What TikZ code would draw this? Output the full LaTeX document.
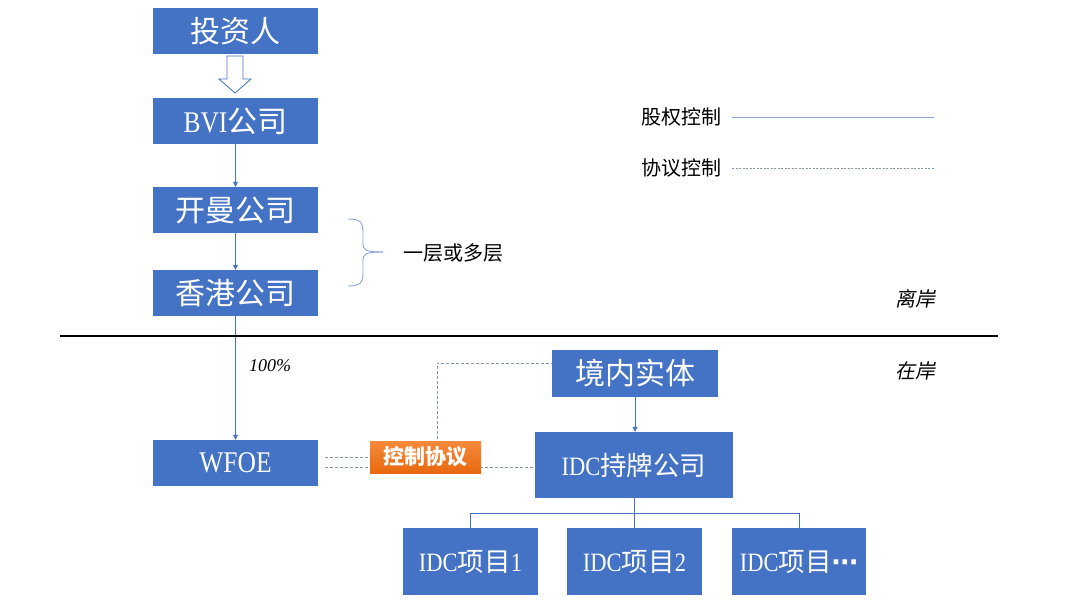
\documentclass[tikz,border=0pt]{standalone}
\usepackage{fontspec}
\setmainfont{Liberation Serif}
\newfontfamily\latn[FakeStretch=0.85]{Liberation Serif}
\newfontfamily\cjk{Noto Sans CJK SC}
\newfontfamily\cjkit[FakeSlant=0.2]{Noto Sans CJK SC}
\newfontfamily\dejavu{DejaVu Sans}
\usetikzlibrary{arrows.meta,calc}
\definecolor{boxblue}{HTML}{4472C4}
\definecolor{linkblue}{HTML}{4472C4}
\definecolor{dashgray}{HTML}{8497B0}
\definecolor{orangetop}{HTML}{F58A3C}
\definecolor{orangebot}{HTML}{E8690E}
\definecolor{legline}{HTML}{8FA2D4}
\begin{document}
\begin{tikzpicture}[x=1pt,y=-1pt,
  box/.style={fill=boxblue, draw=none, text=white, inner sep=0pt, font=\fontsize{30}{34}\selectfont\latn},
  sbox/.style={box, font=\fontsize{26.5}{30}\selectfont\latn},
  link/.style={draw=linkblue, line width=0.8pt, -{Triangle[width=5pt,length=5pt]}},
  plain/.style={draw=linkblue, line width=0.8pt},
  agree/.style={draw=dashgray, line width=0.8pt, dash pattern=on 3pt off 2pt},
  note/.style={font=\fontsize{20}{24}\selectfont\cjk, text=black, inner sep=0pt},
  ctrlbox/.style={top color=orangetop, bottom color=orangebot, draw=none, text=white, inner sep=0pt,
    minimum width=111pt, minimum height=32pt, font=\fontsize{21}{24}\selectfont\cjk\bfseries},
]
\useasboundingbox (0,0) rectangle (1080,608);

% boxes
\node[box, minimum width=165pt, minimum height=46pt] (inv) at (235.5,31) {\cjk 投资人};
\node[box, minimum width=165pt, minimum height=46pt] (bvi) at (235.5,121) {BVI\cjk 公司};
\node[box, minimum width=165pt, minimum height=46pt] (cay) at (235.5,210) {\cjk 开曼公司};
\node[box, minimum width=165pt, minimum height=46pt] (hk) at (235.5,293) {\cjk 香港公司};
\node[box, minimum width=165pt, minimum height=46pt] (wfoe) at (235.5,463) {WFOE};
\node[box, minimum width=166pt, minimum height=47pt] (dom) at (635,373.5) {\cjk 境内实体};
\node[sbox, minimum width=198pt, minimum height=66pt] (idc) at (634,465) {IDC\cjk 持牌公司};
\node[sbox, minimum width=135pt, minimum height=67pt] (p1) at (470.5,561.5) {IDC\cjk 项目\latn 1};
\node[sbox, minimum width=135pt, minimum height=67pt] (p2) at (634.5,561.5) {IDC\cjk 项目\latn 2};
\node[sbox, minimum width=134pt, minimum height=67pt] (p3) at (799,561.5) {IDC\cjk 项目\dejavu\bfseries ⋯};

% hollow arrow
\draw[draw=linkblue, fill=white, line width=0.8pt, line join=miter]
  (227,56) -- (243,56) -- (243,79) -- (251,79) -- (235,93) -- (219,79) -- (227,79) -- cycle;

% equity links
\draw[link] (bvi) -- (cay);
\draw[link] (cay) -- (hk);
\draw[link] (hk) -- (wfoe);
\draw[link] (dom.south) -- (dom.south |- idc.north);
\node[font=\itshape\fontsize{18}{20}\selectfont, anchor=west, inner sep=0pt] (pct) at (249,366) {100\%};

% tree
\coordinate (jn) at (634.5,513);
\draw[plain] (idc.south) -- (idc.south |- jn);
\draw[plain] (p1.north) -- (p1.north |- jn) -- (p3.north |- jn) -- (p3.north);
\draw[plain] (p2.north) -- (p2.north |- jn);

% separator
\draw[line width=1.3pt] (60,336) -- (998,336);
\node[font=\fontsize{20}{22}\selectfont\cjkit, inner sep=0pt] (off) at (915,299) {离岸};
\node[font=\fontsize{20}{22}\selectfont\cjkit, inner sep=0pt] (on) at (915,371) {在岸};

% contractual control
\coordinate (yu) at (0,457);
\coordinate (yl) at (0,467);
\coordinate (yt) at (437,363);
\draw[agree, shorten <=7pt] (wfoe.east |- yu) -| (yt) -- (yt -| dom.west);
\draw[agree, shorten <=7pt] (wfoe.east |- yl) -- (idc.west |- yl);
\node[ctrlbox] (ctrl) at (425.5,457) {控制协议};

% brace
\draw[draw=legline, line width=0.9pt]
  (348,219) .. controls (360,219) and (363,222) .. (363,232) -- (363,243)
  .. controls (363,250) and (365,252) .. (383,252);
\draw[draw=legline, line width=0.9pt]
  (348,286) .. controls (360,286) and (363,283) .. (363,273) -- (363,261)
  .. controls (363,254) and (365,252) .. (383,252);
\node[note, anchor=west] (layers) at (403,253) {一层或多层};

% legend
\node[note, anchor=west] (leg1) at (641,117) {股权控制};
\coordinate (l1) at (934,117);
\draw[draw=legline, line width=0.9pt] ([xshift=11pt]leg1.east) -- (l1);
\node[note, anchor=west] (leg2) at (641,168) {协议控制};
\coordinate (l2) at (934,168);
\draw[agree, dash pattern=on 2pt off 1.5pt, line width=0.6pt] ([xshift=11pt]leg2.east) -- (l2);
\end{tikzpicture}
\end{document}
